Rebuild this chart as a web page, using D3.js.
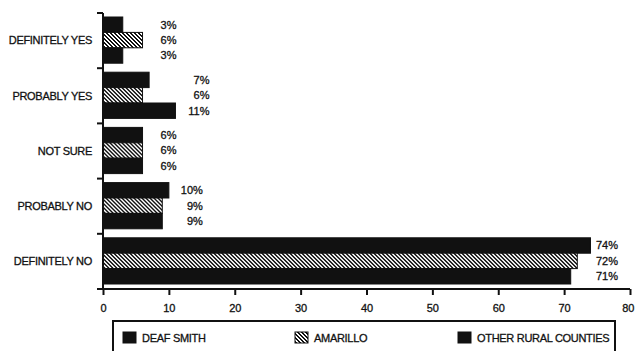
<!DOCTYPE html>
<html>
<head>
<meta charset="utf-8">
<script src="https://d3js.org/d3.v7.min.js"></script>
<style>
  body {margin:0;background:#fff;}
  text {font-family:"Liberation Sans Narrow","Arial Narrow","Liberation Sans",sans-serif;fill:#111;stroke:#111;stroke-width:0.3px;}
</style>
</head>
<body>
<div id="chart"></div>
<script>
const categories = ["DEFINITELY YES", "PROBABLY YES", "NOT SURE", "PROBABLY NO", "DEFINITELY NO"];
const seriesNames = ["DEAF SMITH", "AMARILLO", "OTHER RURAL COUNTIES"];
const deafSmith = [3, 7, 6, 10, 74];
const amarillo = [6, 6, 6, 9, 72];
const otherRural = [3, 11, 6, 9, 71];
const xTicks = [0, 10, 20, 30, 40, 50, 60, 70, 80];

const width = 635, height = 351;
const values = [deafSmith, amarillo, otherRural];

const svg = d3.select("#chart").append("svg")
    .attr("width", width)
    .attr("height", height);

// hatch for amarillo, drawn pixel by pixel so it stays crisp
const pat = svg.append("defs").append("pattern")
    .attr("id", "hatch")
    .attr("patternUnits", "userSpaceOnUse")
    .attr("width", 4).attr("height", 4);
pat.append("rect").attr("width", 4).attr("height", 4).attr("fill", "#111");
[0, 1, 2, 3].forEach(i => {
    pat.append("rect").attr("x", i).attr("y", i).attr("width", 2).attr("height", 1).attr("fill", "#fff");
    if (i == 3) pat.append("rect").attr("x", 0).attr("y", 3).attr("width", 1).attr("height", 1).attr("fill", "#fff");
});

const fills = ["#111", "url(#hatch)", "#111"];

const x = d3.scaleLinear().domain([0, 80]).range([103, 630]);
const y0 = d3.scaleBand().domain(categories).range([13, 289]);
const y1 = d3.scaleBand().domain(seriesNames).range([4, y0.bandwidth() - 5]);

// bars
const groups = svg.append("g").selectAll("g")
    .data(categories)
    .join("g")
    .attr("transform", c => `translate(0,${y0(c)})`);

groups.selectAll("rect")
    .data((c, i) => seriesNames.map((s, j) => ({s: s, v: values[j][i], j: j})))
    .join("rect")
    .attr("x", x(0))
    .attr("y", d => y1(d.s))
    .attr("width", d => x(d.v) - x(0))
    .attr("height", y1.bandwidth())
    .attr("fill", d => fills[d.j])
    .attr("stroke", "#111")
    .attr("stroke-width", 1);

// percent labels, right aligned past the longest bar of each group
groups.each(function (c, i) {
    const mx = d3.max(values, v => v[i]);
    const lx = Math.min(x(mx) + 34, x.range()[1] - 12);
    d3.select(this).selectAll("text")
        .data(seriesNames.map((s, j) => ({s: s, v: values[j][i]})))
        .join("text")
        .attr("x", lx)
        .attr("y", d => y1(d.s) + y1.bandwidth() / 2)
        .attr("dy", "0.35em")
        .attr("text-anchor", "end")
        .style("font-size", "11px")
        .text(d => d.v + "%");
});

// x axis
const xAxis = svg.append("g")
    .attr("transform", `translate(0,${y0.range()[1]})`)
    .call(d3.axisBottom(x).tickValues(xTicks).tickSize(6).tickSizeOuter(0).tickPadding(9));
xAxis.select(".domain").attr("stroke", "#111").attr("stroke-width", 2).attr("d", `M97,0H${x(80)}`);
xAxis.selectAll(".tick line").attr("stroke", "#111").attr("stroke-width", 2);
xAxis.selectAll(".tick text").style("font-size", "11px").attr("fill", "#111")
    .style("font-family", "'Liberation Sans Narrow','Arial Narrow',sans-serif");
// last label sits at the right edge, keep it inside the page
xAxis.selectAll(".tick text").filter(d => d == 80).attr("text-anchor", "end").attr("dx", 4);

// y axis with ticks at the category boundaries
const yAxis = svg.append("g");
yAxis.append("line")
    .attr("x1", x(0)).attr("x2", x(0))
    .attr("y1", y0.range()[0]).attr("y2", y0.range()[1])
    .attr("stroke", "#111").attr("stroke-width", 2);
const bounds = categories.map(c => y0(c)).concat([y0.range()[1]]);
yAxis.selectAll(".yt")
    .data(bounds)
    .join("line")
    .attr("class", "yt")
    .attr("x1", x(0) - 6).attr("x2", x(0))
    .attr("y1", d => d).attr("y2", d => d)
    .attr("stroke", "#111").attr("stroke-width", 2);
yAxis.selectAll(".cat")
    .data(categories)
    .join("text")
    .attr("class", "cat")
    .attr("x", 92)
    .attr("y", c => y0(c) + y0.bandwidth() / 2)
    .attr("dy", "0.35em")
    .attr("text-anchor", "end")
    .style("font-size", "11px")
    .style("letter-spacing", "-0.3px")
    .text(c => c);

// legend
const legend = svg.append("g");
legend.append("rect")
    .attr("x", 113).attr("y", 321)
    .attr("width", 502).attr("height", 40)
    .attr("fill", "none").attr("stroke", "#111").attr("stroke-width", 2);
const legendX = [123, 295, 458];
const items = legend.selectAll(".item")
    .data(seriesNames)
    .join("g")
    .attr("class", "item")
    .attr("transform", (s, j) => `translate(${legendX[j]},332)`);
items.append("rect")
    .attr("width", 13).attr("height", 11)
    .attr("fill", (s, j) => fills[j])
    .attr("stroke", "#111").attr("stroke-width", 1);
items.append("text")
    .attr("x", 19).attr("y", 6)
    .attr("dy", "0.35em")
    .style("font-size", "11px")
    .style("letter-spacing", "-0.3px")
    .text(s => s);
</script>
</body>
</html>
